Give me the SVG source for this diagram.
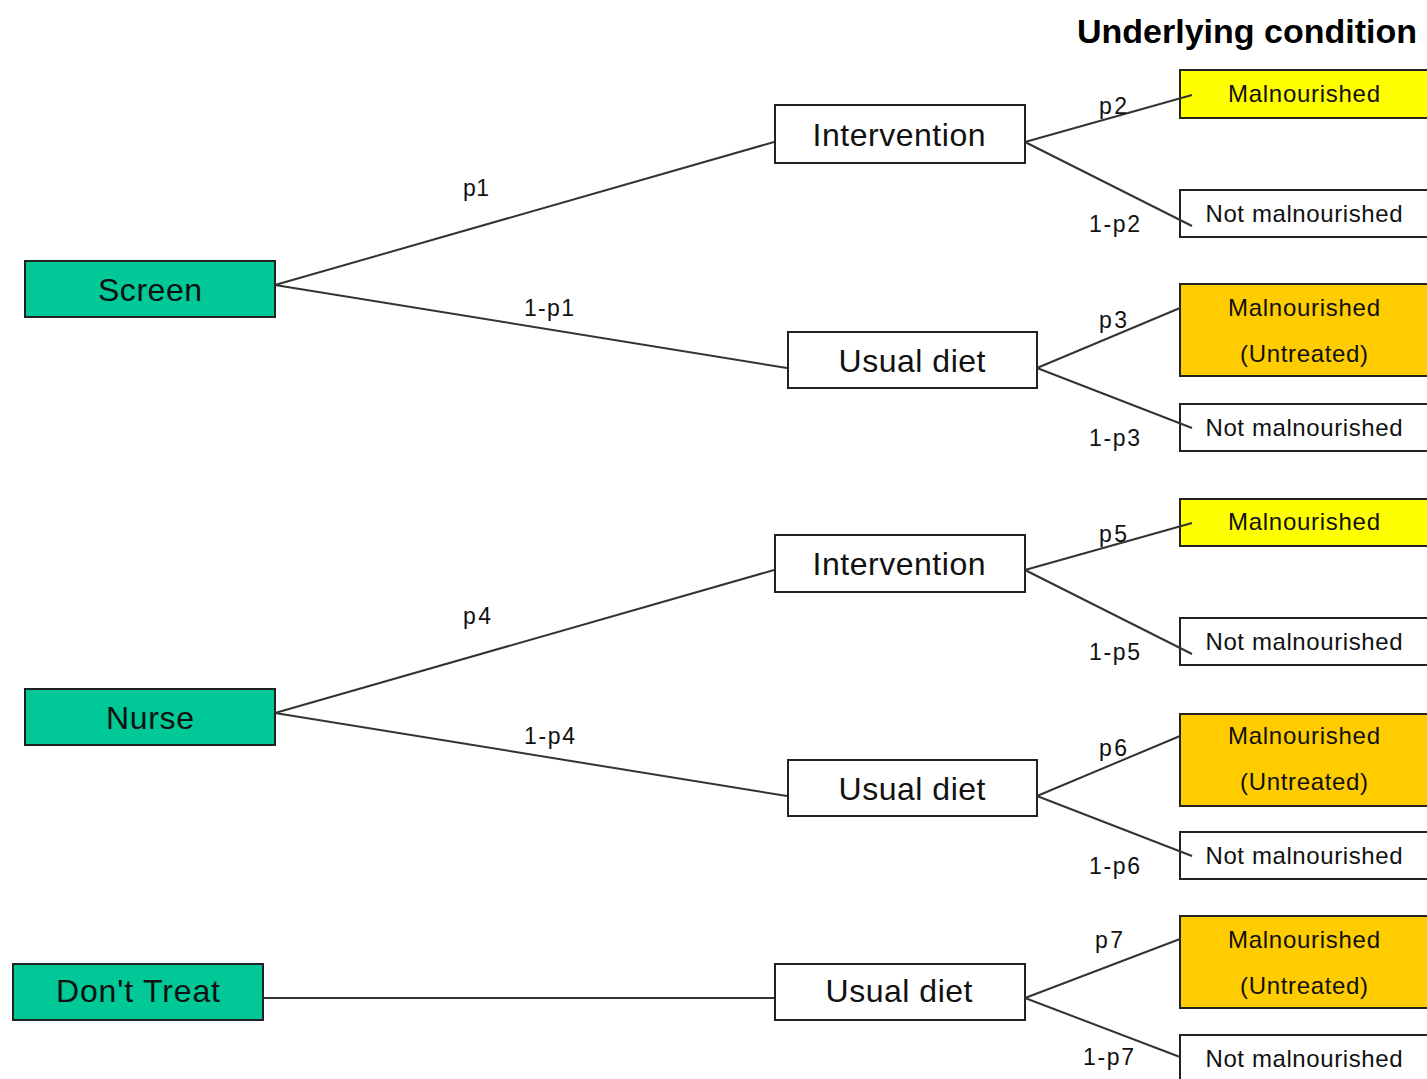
<svg xmlns="http://www.w3.org/2000/svg" width="1427" height="1079" viewBox="0 0 1427 1079">
<style>
.box{stroke:#222;stroke-width:2}
.g{fill:#00C896}
.w{fill:#fff}
.y{fill:#FFFF00}
.o{fill:#FFCC00}
.big{font-family:"Liberation Sans",Arial,sans-serif;font-size:32px;fill:#111;text-anchor:middle}
.mid{font-family:"Liberation Sans",Arial,sans-serif;font-size:24px;fill:#111;text-anchor:middle}
.lab{font-family:"Liberation Sans",Arial,sans-serif;font-size:23px;fill:#111}
.title{font-family:"Liberation Sans",Arial,sans-serif;font-size:34px;font-weight:bold;fill:#000}
.c{stroke:#333;stroke-width:2;fill:none}
</style>
<rect width="1427" height="1079" fill="#fff"/>
<text class="title" x="1077" y="43" textLength="340" lengthAdjust="spacing">Underlying condition</text>
<g id="screen"><rect class="box g" x="25" y="261" width="250" height="56"/><text class="big" x="150" y="301" textLength="104" lengthAdjust="spacing">Screen</text></g>
<g id="nurse"><rect class="box g" x="25" y="689" width="250" height="56"/><text class="big" x="150" y="729" textLength="88" lengthAdjust="spacing">Nurse</text></g>
<g id="dont-treat"><rect class="box g" x="13" y="964" width="250" height="56"/><text class="big" x="138" y="1002" textLength="164" lengthAdjust="spacing">Don't Treat</text></g>
<g id="intervention1"><rect class="box w" x="775" y="105" width="250" height="58"/><text class="big" x="899" y="146" textLength="173" lengthAdjust="spacing">Intervention</text></g>
<g id="usual1"><rect class="box w" x="788" y="332" width="249" height="56"/><text class="big" x="912" y="372" textLength="147" lengthAdjust="spacing">Usual diet</text></g>
<g id="intervention2"><rect class="box w" x="775" y="535" width="250" height="57"/><text class="big" x="899" y="575" textLength="173" lengthAdjust="spacing">Intervention</text></g>
<g id="usual2"><rect class="box w" x="788" y="760" width="249" height="56"/><text class="big" x="912" y="800" textLength="147" lengthAdjust="spacing">Usual diet</text></g>
<g id="usual3"><rect class="box w" x="775" y="964" width="250" height="56"/><text class="big" x="899" y="1002" textLength="147" lengthAdjust="spacing">Usual diet</text></g>
<g id="mal1"><rect class="box y" x="1180" y="70" width="250" height="48"/><text class="mid" x="1304" y="102" textLength="152" lengthAdjust="spacing">Malnourished</text></g>
<g id="notmal1"><rect class="box w" x="1180" y="190" width="250" height="47"/><text class="mid" x="1304" y="222" textLength="197" lengthAdjust="spacing">Not malnourished</text></g>
<g id="malu1"><rect class="box o" x="1180" y="284" width="250" height="92"/><text class="mid" x="1304" y="316" textLength="152" lengthAdjust="spacing">Malnourished</text><text class="mid" x="1304" y="362" textLength="128" lengthAdjust="spacing">(Untreated)</text></g>
<g id="notmal2"><rect class="box w" x="1180" y="404" width="250" height="47"/><text class="mid" x="1304" y="436" textLength="197" lengthAdjust="spacing">Not malnourished</text></g>
<g id="mal2"><rect class="box y" x="1180" y="499" width="250" height="47"/><text class="mid" x="1304" y="530" textLength="152" lengthAdjust="spacing">Malnourished</text></g>
<g id="notmal3"><rect class="box w" x="1180" y="618" width="250" height="47"/><text class="mid" x="1304" y="650" textLength="197" lengthAdjust="spacing">Not malnourished</text></g>
<g id="malu2"><rect class="box o" x="1180" y="714" width="250" height="92"/><text class="mid" x="1304" y="744" textLength="152" lengthAdjust="spacing">Malnourished</text><text class="mid" x="1304" y="790" textLength="128" lengthAdjust="spacing">(Untreated)</text></g>
<g id="notmal4"><rect class="box w" x="1180" y="832" width="250" height="47"/><text class="mid" x="1304" y="864" textLength="197" lengthAdjust="spacing">Not malnourished</text></g>
<g id="malu3"><rect class="box o" x="1180" y="916" width="250" height="92"/><text class="mid" x="1304" y="948" textLength="152" lengthAdjust="spacing">Malnourished</text><text class="mid" x="1304" y="994" textLength="128" lengthAdjust="spacing">(Untreated)</text></g>
<g id="notmal5"><rect class="box w" x="1180" y="1035" width="250" height="50"/><text class="mid" x="1304" y="1067" textLength="197" lengthAdjust="spacing">Not malnourished</text></g>
<g id="connectors">
<line class="c" x1="275" y1="285" x2="774" y2="142"/>
<line class="c" x1="275" y1="285" x2="787" y2="368"/>
<line class="c" x1="1025" y1="142" x2="1192" y2="95"/>
<line class="c" x1="1025" y1="142" x2="1192" y2="226"/>
<line class="c" x1="1037" y1="368" x2="1180" y2="308"/>
<line class="c" x1="1037" y1="368" x2="1192" y2="428"/>
<line class="c" x1="275" y1="713" x2="774" y2="570"/>
<line class="c" x1="275" y1="713" x2="787" y2="796"/>
<line class="c" x1="1025" y1="570" x2="1192" y2="523"/>
<line class="c" x1="1025" y1="570" x2="1192" y2="654"/>
<line class="c" x1="1037" y1="796" x2="1180" y2="736"/>
<line class="c" x1="1037" y1="796" x2="1192" y2="856"/>
<line class="c" x1="263" y1="998" x2="774" y2="998"/>
<line class="c" x1="1025" y1="998" x2="1180" y2="939"/>
<line class="c" x1="1025" y1="998" x2="1180" y2="1057"/>
<text class="lab" x="463" y="196" textLength="26" lengthAdjust="spacing">p1</text>
<text class="lab" x="524" y="316" textLength="50" lengthAdjust="spacing">1-p1</text>
<text class="lab" x="1099" y="114" textLength="28" lengthAdjust="spacing">p2</text>
<text class="lab" x="1089" y="232" textLength="51" lengthAdjust="spacing">1-p2</text>
<text class="lab" x="1099" y="328" textLength="28" lengthAdjust="spacing">p3</text>
<text class="lab" x="1089" y="446" textLength="51" lengthAdjust="spacing">1-p3</text>
<text class="lab" x="463" y="624" textLength="28" lengthAdjust="spacing">p4</text>
<text class="lab" x="524" y="744" textLength="51" lengthAdjust="spacing">1-p4</text>
<text class="lab" x="1099" y="542" textLength="28" lengthAdjust="spacing">p5</text>
<text class="lab" x="1089" y="660" textLength="51" lengthAdjust="spacing">1-p5</text>
<text class="lab" x="1099" y="756" textLength="28" lengthAdjust="spacing">p6</text>
<text class="lab" x="1089" y="874" textLength="51" lengthAdjust="spacing">1-p6</text>
<text class="lab" x="1095" y="948" textLength="28" lengthAdjust="spacing">p7</text>
<text class="lab" x="1083" y="1065" textLength="51" lengthAdjust="spacing">1-p7</text>
</g>
</svg>
